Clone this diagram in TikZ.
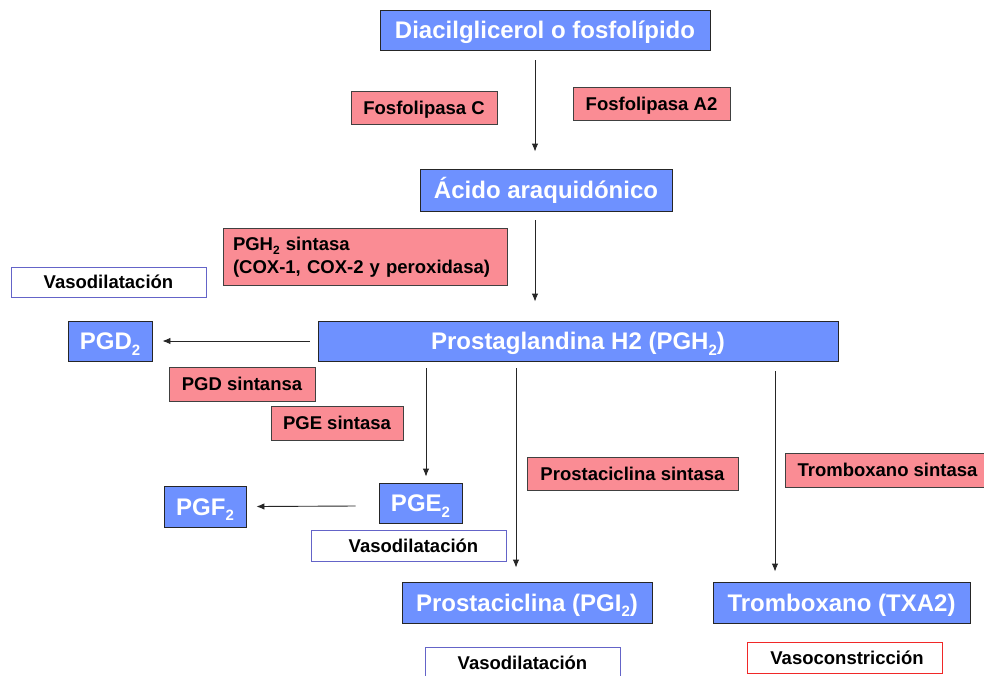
\documentclass[tikz,border=0pt]{standalone}
\usepackage{fontspec}
\setmainfont{Liberation Sans}
\usetikzlibrary{arrows.meta}
\definecolor{bluefill}{RGB}{110,145,255}
\definecolor{pinkfill}{RGB}{250,140,148}
\definecolor{vasoblue}{RGB}{100,100,200}
\definecolor{vasored}{RGB}{240,40,40}
\newcommand{\bsub}[1]{\raisebox{-5.5pt}{\fontsize{15}{15}\selectfont #1}}
\newcommand{\esub}[1]{\raisebox{-4pt}{\fontsize{12}{12}\selectfont #1}}
\begin{document}
\begin{tikzpicture}[x=1pt,y=-1pt,
  bluebox/.style={draw=black!85, line width=0.9pt, fill=bluefill, text=white, inner sep=0pt,
    text height=17.2pt, text depth=0pt,
    font=\fontsize{24}{28}\selectfont\bfseries},
  enzbox/.style={draw=black!75, line width=0.9pt, fill=pinkfill, text=black, inner sep=0pt,
    text height=13.3pt, text depth=0pt,
    font=\fontsize{18.5}{22}\selectfont\bfseries},
  effbox/.style={draw=vasoblue, line width=0.9pt, fill=white, text=black, inner sep=0pt,
    text height=13.3pt, text depth=0pt,
    font=\fontsize{18.5}{22}\selectfont\bfseries},
  arr/.style={draw=black!85, line width=0.9pt, -{Latex[length=8pt,width=6.5pt]}},
  sz/.style 2 args={minimum width=#1pt, minimum height=#2pt}
]
\useasboundingbox (0,0) rectangle (984,675);

\node[bluebox, sz={330}{40}] (diac) at (545,30) {Diacilglicerol o fosfolípido};
\node[enzbox, sz={146}{33}] (fosC) at (424,107.5) {Fosfolipasa C};
\node[enzbox, sz={157}{33}] (fosA) at (651.5,103.5) {Fosfolipasa A2};
\node[bluebox, sz={252}{42}] (acido) at (546,190) {Ácido araquidónico};
\node[enzbox, sz={284}{57}, align=left, text width=264pt, text height=, text depth=,
  font=\fontsize{18.5}{23}\selectfont\bfseries] (pghs) at (365,257)
  {PGH\esub{2} sintasa\\(COX-1, COX-2 y peroxidasa)};
\node[effbox, sz={195}{30}] (vasoL) at (108.5,282) {Vasodilatación};
\node[bluebox, sz={84}{40}] (pgd2) at (110,341) {PGD\bsub{2}};
\node[bluebox, sz={520}{40}] (pgh2) at (578,341) {Prostaglandina H2 (PGH\bsub{2})};
\node[enzbox, sz={146}{34}] (pgds) at (242,384) {PGD sintansa};
\node[enzbox, sz={132}{34}] (pges) at (337,423) {PGE sintasa};
\node[bluebox, sz={83}{40}] (pge2) at (420.5,503) {PGE\bsub{2}};
\node[bluebox, sz={82}{41}] (pgf2) at (205,506.5) {PGF\bsub{2}};
\node[effbox, sz={195}{31}] (vasoM) at (408.5,545.5) {\hspace{10pt}Vasodilatación};
\node[enzbox, sz={211}{33}] (pcs) at (632.5,473.5) {Prostaciclina sintasa};
\node[enzbox, sz={205}{34}] (txs) at (887.5,470) {Tromboxano sintasa};
\node[bluebox, sz={250}{41}] (pgi2) at (527,602.5) {Prostaciclina (PGI\bsub{2})};
\node[bluebox, sz={257}{41}] (txa2) at (841.5,602.5) {Tromboxano (TXA2)};
\node[effbox, sz={195}{31}] (vasoB) at (522.5,662.5) {Vasodilatación};
\node[effbox, draw=vasored, sz={195}{31}] (vasoC) at (844.5,657.5) {\hspace{5pt}Vasoconstricción};

\draw[arr] ([xshift=-10pt,yshift=-10pt]diac.south) -- ([xshift=-11pt,yshift=17pt]acido.north);
\draw[arr] ([xshift=-11pt,yshift=-9pt]acido.south) -- ([xshift=-43pt,yshift=19pt]pgh2.north);
\draw[arr] ([xshift=-8pt]pgh2.west) -- ([xshift=10pt]pgd2.east);
\draw[arr] ([xshift=-152pt,yshift=-7pt]pgh2.south) -- ([xshift=5.5pt,yshift=6pt]pge2.north);
\draw[arr] ([xshift=-62pt,yshift=-7pt]pgh2.south) -- ([xshift=-11pt,yshift=14pt]pgi2.north);
\draw[arr] ([xshift=197pt,yshift=-10pt]pgh2.south) -- ([xshift=-66.5pt,yshift=10pt]txa2.north);
\draw[arr] ([xshift=-23pt,yshift=-3pt]pge2.west) -- ([xshift=10pt]pgf2.east);
\end{tikzpicture}
\end{document}
